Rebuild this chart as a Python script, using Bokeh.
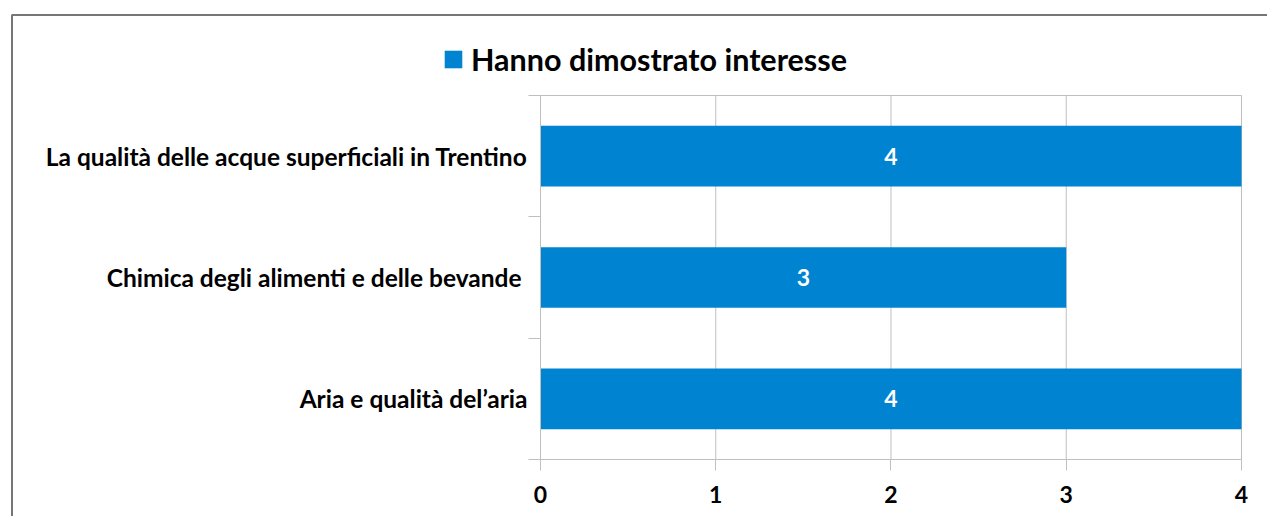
from bokeh.plotting import figure
from bokeh.models import (ColumnDataSource, FixedTicker, Legend, LegendItem, Range1d,
                          BoxAnnotation)
from bokeh.core.properties import value
from bokeh.embed import file_html
from bokeh.resources import INLINE

categories = [
    "La qualità delle acque superficiali in Trentino",
    "Chimica degli alimenti e delle bevande ",
    "Aria e qualità del\u2019aria",
]
values = [4, 3, 4]
series_name = "Hanno dimostrato interesse"
x_ticks = [0, 1, 2, 3, 4]

FONT = "Lato"
BAR = "#0084D1"
AX = "#BFBFBF"

n = len(categories)
xmax = x_ticks[-1]
# bottom-to-top order for numeric y positions
cats_bt = categories[::-1]
vals_bt = values[::-1]
ypos = [i + 0.5 for i in range(n)]

src = ColumnDataSource(dict(y=ypos, v=vals_bt, half=[v / 2 for v in vals_bt],
                            lab=[str(v) for v in vals_bt]))

# the frame fills the whole canvas; axes are pinned at x=0 / y=0
p = figure(width=1267, height=516, output_backend="svg", toolbar_location=None,
           x_range=Range1d(-3.0813, 4.1484), y_range=Range1d(-0.4698, 3.7830),
           min_border=0)
p.background_fill_color = "white"
p.border_fill_color = "white"
p.outline_line_color = None
p.xgrid.grid_line_color = None
p.ygrid.grid_line_color = None

# vertical grid lines over the category area, and the top edge of the plot area
p.segment(x0=x_ticks, x1=x_ticks, y0=[0] * len(x_ticks), y1=[n] * len(x_ticks),
          line_color=AX, line_width=1)
p.segment(x0=[0], x1=[xmax], y0=[n], y1=[n], line_color=AX, line_width=1)

r = p.hbar(y="y", right="v", left=0, height=0.5, source=src, fill_color=BAR,
           line_color=None)
p.text(x="half", y="y", text="lab", source=src, text_color="white",
       text_font=value(FONT), text_font_style="bold", text_font_size="23px",
       text_align="center", text_baseline="middle")

# outer chart border (top and left visible; right/bottom beyond the window)
p.add_layout(BoxAnnotation(left=11.5, right=3000, top=14.5, bottom=3000,
                           left_units="canvas", right_units="canvas",
                           top_units="canvas", bottom_units="canvas",
                           fill_alpha=0, line_color="#767676", line_alpha=1.0,
                           line_width=2, level="overlay"))

# x axis
xa = p.xaxis[0]
xa.fixed_location = 0
xa.bounds = (0, xmax)
xa.ticker = FixedTicker(ticks=x_ticks, minor_ticks=[])
xa.axis_line_color = AX
xa.major_tick_line_color = AX
xa.major_tick_in = 0
xa.major_tick_out = 11
xa.minor_tick_line_color = None
xa.major_label_text_font = FONT
xa.major_label_text_font_style = "bold"
xa.major_label_text_font_size = "23px"
xa.major_label_text_color = "black"
xa.major_label_standoff = 16

# y axis: labels at centres, tick marks at category boundaries
ya = p.yaxis[0]
ya.fixed_location = 0
ya.bounds = (0, n)
ya.ticker = FixedTicker(ticks=ypos, minor_ticks=list(range(n + 1)))
ya.major_label_overrides = {y: c for y, c in zip(ypos, cats_bt)}
ya.axis_line_color = AX
ya.major_tick_line_color = None
ya.major_tick_in = 0
ya.major_tick_out = 0
ya.minor_tick_line_color = AX
ya.minor_tick_in = 0
ya.minor_tick_out = 12
ya.major_label_text_font = FONT
ya.major_label_text_font_style = "bold"
ya.major_label_text_font_size = "24.5px"
ya.major_label_text_color = "black"
ya.major_label_standoff = 1

legend = Legend(items=[LegendItem(label=series_name, renderers=[r])],
                orientation="horizontal", location=(442, 439),
                label_text_font=FONT, label_text_font_style="bold",
                label_text_font_size="30.5px", label_text_color="black",
                glyph_width=22, glyph_height=22, label_standoff=7,
                padding=0, margin=0, border_line_color=None,
                background_fill_alpha=0)
p.add_layout(legend, "center")

open("out.html", "w").write(file_html(p, INLINE))
